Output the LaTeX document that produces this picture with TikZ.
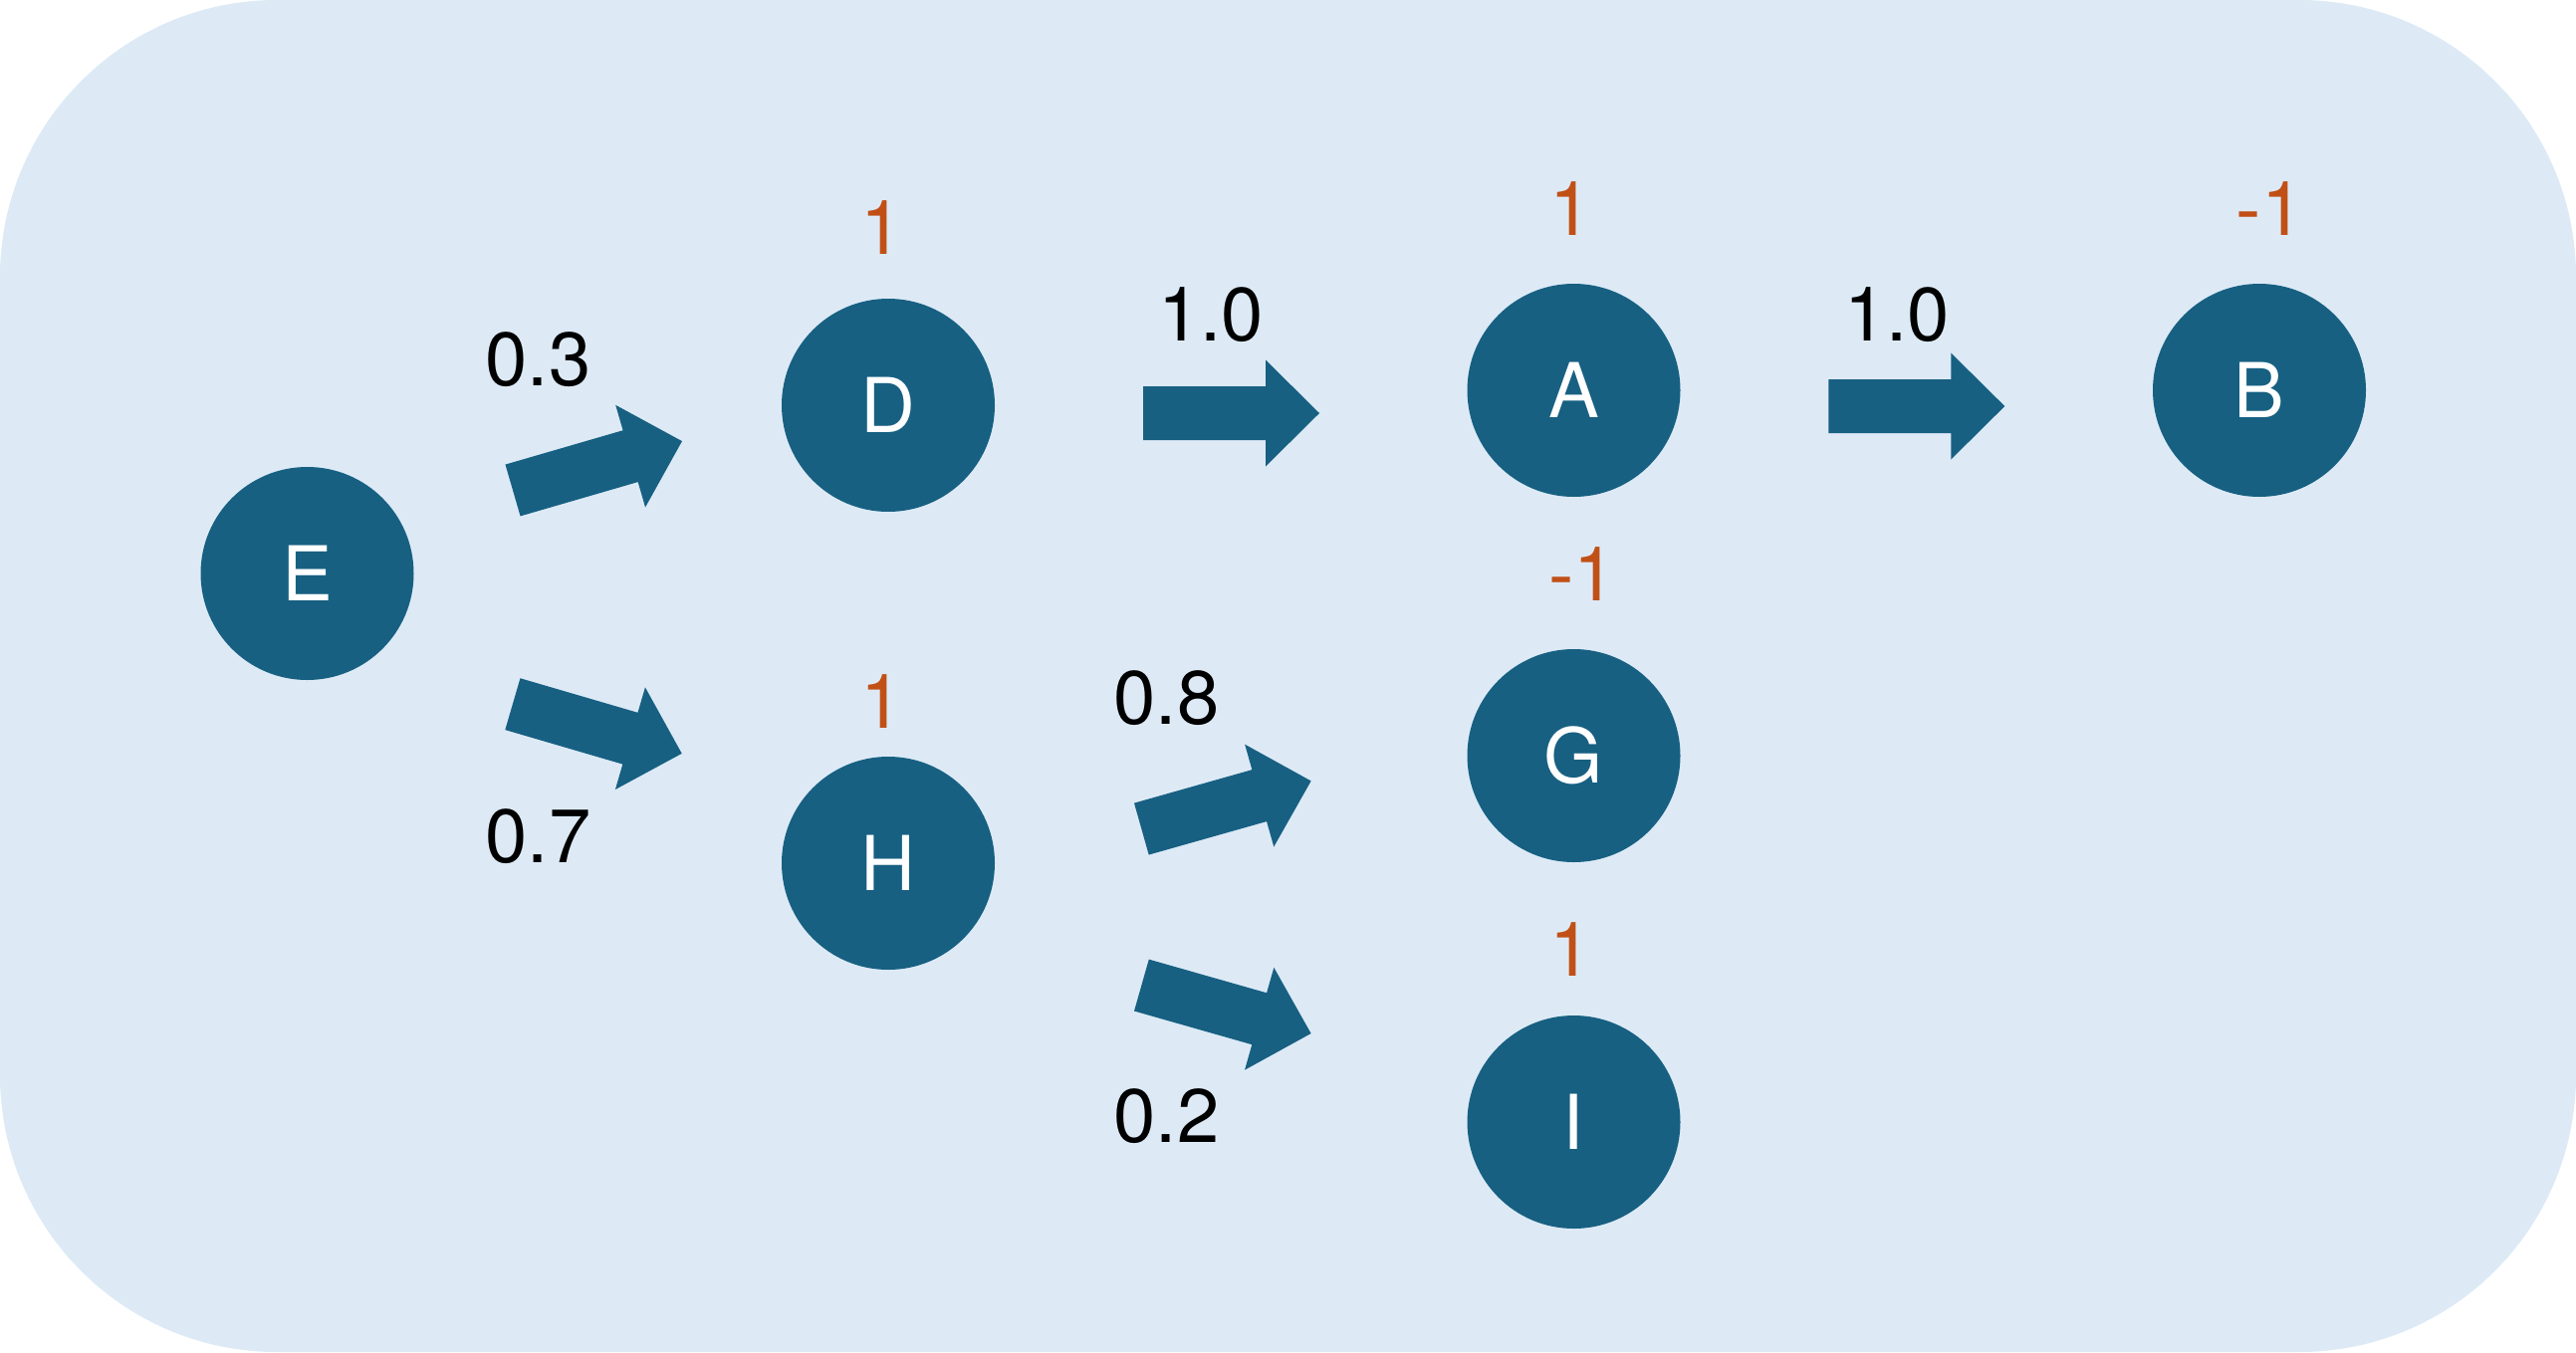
\documentclass[tikz,border=0pt]{standalone}
\usepackage{fontspec}
\setmainfont{TeX Gyre Heros}
\definecolor{bgc}{RGB}{221,234,246}
\definecolor{nodec}{RGB}{23,96,130}
\definecolor{valc}{RGB}{193,80,22}
\tikzset{
  bignode/.style={circle, fill=nodec, minimum size=214pt, inner sep=0pt, text=white,
    font=\fontsize{76}{90}\selectfont, text height=55pt, text depth=0pt},
  wlab/.style={anchor=base, inner sep=0pt, text=black, font=\fontsize{76}{90}\selectfont},
  vlab/.style={anchor=base, inner sep=0pt, text=valc, font=\fontsize{76}{90}\selectfont},
  blockarrow/.pic={
    \fill[nodec] (-88.5,-27) -- (34.5,-27) -- (34.5,-53.5) -- (88.5,0)
      -- (34.5,53.5) -- (34.5,27) -- (-88.5,27) -- cycle;
  }
}
\begin{document}
\begin{tikzpicture}[x=1pt,y=-1pt]
\useasboundingbox (0,0) rectangle (2587,1358);
\fill[bgc, rounded corners=278pt] (0,0) rectangle (2587,1358);

\node[bignode] (E) at (308.5,576) {E};
\node[bignode] (D) at (892,407) {D};
\node[bignode] (H) at (892,867) {H};
\node[bignode] (A) at (1580.5,392) {A};
\node[bignode] (G) at (1580.5,759) {G};
\node[bignode] (I) at (1580.5,1127) {I};
\node[bignode] (B) at (2269,392) {B};

\pic[rotate=16.2] (ED) at (600,467.8) {blockarrow};
\pic[rotate=-16.3] (EH) at (599.8,732) {blockarrow};
\pic (DA) at (1236.5,415) {blockarrow};
\pic (AB) at (1924.8,408) {blockarrow};
\pic[rotate=15.8] (HG) at (1231.5,808.5) {blockarrow};
\pic[rotate=-15.9] (HI) at (1231.5,1013.8) {blockarrow};

\node[wlab] (w03) at (540.5,387) {0.3};
\node[wlab] (w07) at (540.5,866) {0.7};
\node[wlab] (w10a) at (1216,342) {1.0};
\node[wlab] (w10b) at (1905,342) {1.0};
\node[wlab] (w08) at (1171.5,727) {0.8};
\node[wlab] (w02) at (1171.5,1147) {0.2};

\node[vlab] (vD) at (886,255) {1};
\node[vlab] (vH) at (886,731) {1};
\node[vlab] (vA) at (1578,236) {1};
\node[vlab] (vI) at (1578,980) {1};
\node[vlab] (vB) at (2279.5,236) {-1};
\node[vlab] (vG) at (1589,603) {-1};
\end{tikzpicture}
\end{document}
